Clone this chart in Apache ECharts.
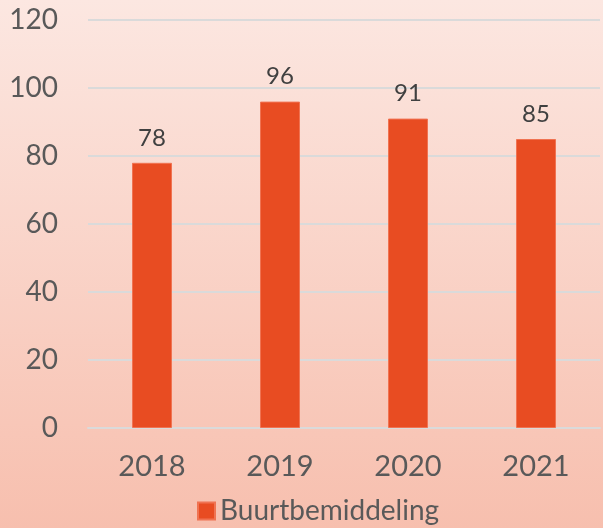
<!DOCTYPE html>
<html>
<head>
<meta charset="utf-8">
<script src="https://cdn.jsdelivr.net/npm/echarts@6/dist/echarts.min.js"></script>
<style>
  html, body { margin: 0; padding: 0; }
  #chart { width: 603px; height: 528px; }
</style>
</head>
<body>
<div id="chart"></div>
<script>
const years = ['2018', '2019', '2020', '2021'];
const cases = [78, 96, 91, 85];
const seriesName = 'Buurtbemiddeling';

const chart = echarts.init(document.getElementById('chart'));
const font = 'Lato, "Open Sans", sans-serif';

chart.setOption({
  backgroundColor: new echarts.graphic.LinearGradient(0, 0, 0, 1, [
    { offset: 0, color: '#fce7e1' },
    { offset: 1, color: '#f7bfae' }
  ]),
  animation: false,
  grid: { left: 88, right: 3, top: 20, bottom: 100 },
  legend: {
    left: 192,
    top: 492,
    itemWidth: 17,
    itemHeight: 17,
    itemGap: 6,
    icon: 'rect',
    textStyle: { fontFamily: font, fontSize: 28, color: '#595959' },
    data: [seriesName]
  },
  xAxis: {
    type: 'category',
    data: years,
    axisTick: { show: false },
    axisLine: { lineStyle: { color: '#dadada', width: 2 } },
    axisLabel: { margin: 24, fontFamily: font, fontSize: 29, color: '#595959' }
  },
  yAxis: {
    type: 'value',
    min: 0,
    max: 120,
    interval: 20,
    axisLine: { show: false },
    axisTick: { show: false },
    splitLine: { lineStyle: { color: '#dadada', width: 2 } },
    axisLabel: { margin: 30, fontFamily: font, fontSize: 28, color: '#595959' }
  },
  series: [{
    name: seriesName,
    type: 'bar',
    data: cases,
    barWidth: 40,
    itemStyle: { color: '#e84c22', borderColor: '#f07352', borderWidth: 1 },
    label: {
      show: true,
      position: 'top',
      distance: 13,
      fontFamily: font,
      fontSize: 24,
      color: '#404040'
    }
  }]
});
</script>
</body>
</html>
